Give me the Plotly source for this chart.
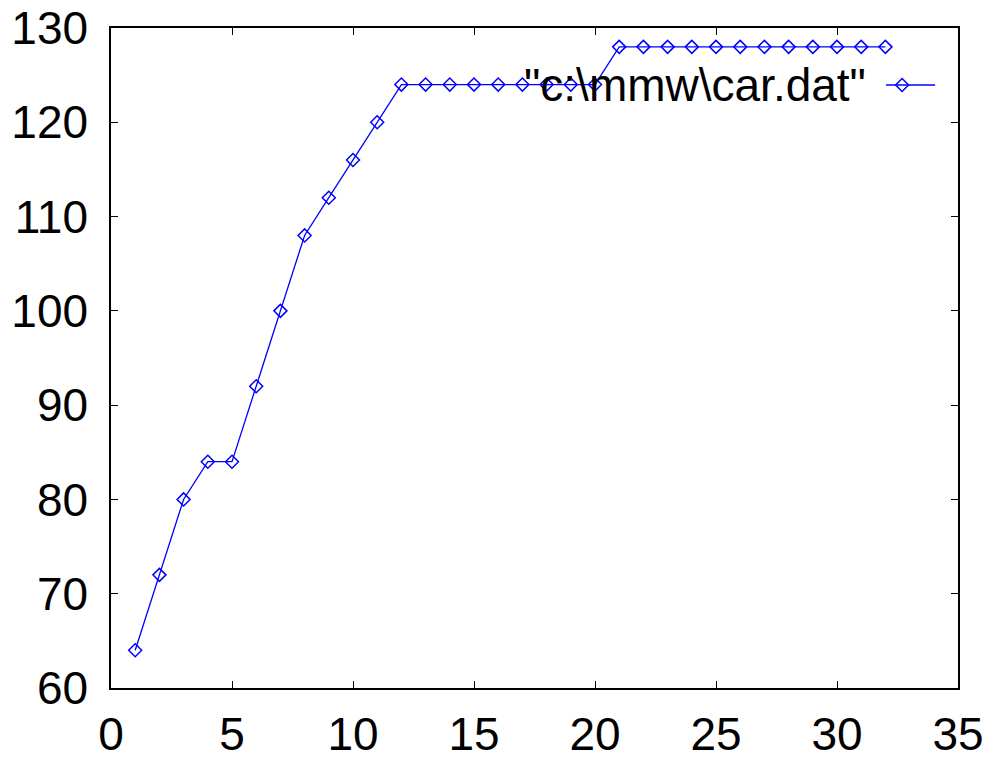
import plotly.graph_objects as go

x_vals = list(range(1, 33))
y_vals = [64, 72, 80, 84, 84, 92, 100, 108, 112, 116, 120,
          124, 124, 124, 124, 124, 124, 124, 124, 124,
          128, 128, 128, 128, 128, 128, 128, 128, 128, 128, 128, 128]
x_ticks = [0, 5, 10, 15, 20, 25, 30, 35]
y_ticks = [60, 70, 80, 90, 100, 110, 120, 130]
series_name = '"c:\\mmw\\car.dat"'

BLUE = "#0000ff"
FONT = "Liberation Sans, Arial, sans-serif"
FS = 46

fig = go.Figure()
fig.add_trace(go.Scatter(
    x=x_vals, y=y_vals, mode="lines+markers", name=series_name,
    line=dict(color=BLUE, width=1.3),
    marker=dict(symbol="diamond-open", size=10, color=BLUE, line=dict(width=1.5)),
    showlegend=False,
))

axis_common = dict(
    showgrid=False, zeroline=False, showline=True, linecolor="black", linewidth=1.5,
    mirror="ticks", ticks="inside", ticklen=7, tickcolor="black", tickwidth=1,
    tickfont=dict(family=FONT, size=FS, color="black"), automargin=False,
)
fig.update_xaxes(range=[0, 35], tickvals=x_ticks, ticklabelstandoff=5, **axis_common)
fig.update_yaxes(range=[60, 130], tickvals=y_ticks, ticklabelstandoff=12, **axis_common)

# gnuplot-style key: text on the left, sample on the right
lx0, lx1, ly = 0.915, 0.973, 0.9136
fig.add_annotation(xref="paper", yref="paper", x=0.8937, y=ly, text=series_name,
                   showarrow=False, xanchor="right", yanchor="middle",
                   font=dict(family=FONT, size=FS, color="black"))
fig.add_shape(type="line", xref="paper", yref="paper", x0=lx0, x1=lx1, y0=ly, y1=ly,
              line=dict(color=BLUE, width=1.3))
fig.add_trace(go.Scatter(
    x=[0.934], y=[ly], xaxis="x2", yaxis="y2", mode="markers",
    marker=dict(symbol="diamond-open", size=10, color=BLUE, line=dict(width=1.5)),
    showlegend=False, hoverinfo="skip",
))
fig.update_layout(
    xaxis2=dict(overlaying="x", range=[0, 1], visible=False, domain=[0, 1]),
    yaxis2=dict(overlaying="y", range=[0, 1], visible=False, domain=[0, 1]),
)

fig.update_layout(
    width=1001, height=759,
    margin=dict(l=111, r=43, t=28, b=71),
    paper_bgcolor="white", plot_bgcolor="white",
    showlegend=False,
)
fig.write_html("out.html", config={"displayModeBar": False},
               post_script="document.body.style.margin='0px';")
